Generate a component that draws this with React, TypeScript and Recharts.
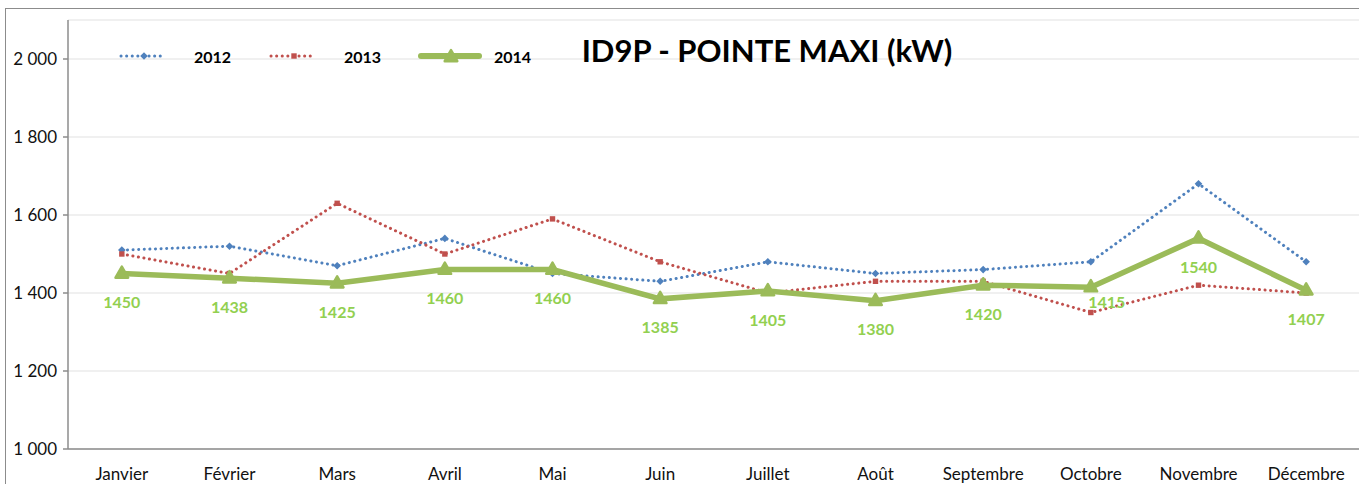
import React from "react";
import {
  CartesianGrid,
  LabelList,
  Line,
  LineChart,
  XAxis,
  YAxis,
} from "recharts";

const MONTHS = [
  "Janvier",
  "Février",
  "Mars",
  "Avril",
  "Mai",
  "Juin",
  "Juillet",
  "Août",
  "Septembre",
  "Octobre",
  "Novembre",
  "Décembre",
];
const Y2012 = [1510, 1520, 1470, 1540, 1450, 1430, 1480, 1450, 1460, 1480, 1680, 1480];
const Y2013 = [1500, 1450, 1630, 1500, 1590, 1480, 1400, 1430, 1430, 1350, 1420, 1400];
const Y2014 = [1450, 1438, 1425, 1460, 1460, 1385, 1405, 1380, 1420, 1415, 1540, 1407];
const Y_TICKS = [1000, 1200, 1400, 1600, 1800, 2000];

const BLUE = "#4F81BD";
const RED = "#C0504D";
const GREEN = "#9BBB59";
const LABEL_GREEN = "#92D050";
const FONT = "Lato, 'Open Sans', sans-serif";
const DOTS = "0.1 5.5";

const data = MONTHS.map((m, i) => ({
  idx: i + 1,
  month: m,
  y2012: Y2012[i],
  y2013: Y2013[i],
  y2014: Y2014[i],
}));

// boundaries between months, where Excel puts the category tick marks
const BOUNDS = MONTHS.map((_, i) => i + 0.5).concat([MONTHS.length + 0.5]);

const fmtThousands = (v: number) =>
  String(v).replace(/\B(?=(\d{3})+(?!\d))/g, "\u00a0");

function Diamond({ cx, cy }: any) {
  if (cx == null || cy == null) return null;
  const r = 3.8;
  return (
    <path
      d={`M${cx},${cy - r}L${cx + r},${cy}L${cx},${cy + r}L${cx - r},${cy}Z`}
      fill={BLUE}
    />
  );
}

function Square({ cx, cy }: any) {
  if (cx == null || cy == null) return null;
  return <rect x={cx - 2.7} y={cy - 2.7} width={5.4} height={5.4} fill={RED} />;
}

function Triangle({ cx, cy }: any) {
  if (cx == null || cy == null) return null;
  const r = 7;
  return (
    <path
      d={`M${cx},${cy - r}L${cx + r * 0.9},${cy + r * 0.6}L${cx - r * 0.9},${cy + r * 0.6}Z`}
      fill={GREEN}
      stroke={GREEN}
      strokeWidth={2.5}
      strokeLinejoin="round"
    />
  );
}

function GreenLabel(props: any) {
  const { x, y, value, index } = props;
  // Excel nudged the October label to the right of its point
  const shifted = index === 9;
  return (
    <text
      x={x + (shifted ? 16 : 0)}
      y={y + (shifted ? 14 : 28)}
      textAnchor="middle"
      dominantBaseline="central"
      fill={LABEL_GREEN}
      fontFamily={FONT}
      fontWeight={700}
      fontSize={16}
    >
      {value}
    </text>
  );
}

function ChartLegend() {
  const items = [
    { name: "2012", color: BLUE, dash: DOTS, width: 3, mark: "d" },
    { name: "2013", color: RED, dash: DOTS, width: 3, mark: "s" },
    { name: "2014", color: GREEN, dash: undefined, width: 6, mark: "t" },
  ];
  return (
    <div
      style={{
        position: "absolute",
        left: 118,
        top: 46,
        display: "flex",
        alignItems: "center",
      }}
    >
      {items.map((it, i) => (
        <div
          key={it.name}
          style={{ display: "flex", alignItems: "center", width: 150 }}
        >
          <svg width={i === 2 ? 64 : 50} height={20}>
            <line
              x1={3}
              x2={i === 2 ? 61 : 47}
              y1={10}
              y2={10}
              stroke={it.color}
              strokeWidth={it.width}
              strokeDasharray={it.dash}
              strokeLinecap="round"
            />
            {it.mark === "d" && <Diamond cx={26} cy={10} />}
            {it.mark === "s" && <Square cx={26} cy={10} />}
            {it.mark === "t" && <Triangle cx={33} cy={11} />}
          </svg>
          <span
            style={{
              fontFamily: FONT,
              fontWeight: 700,
              fontSize: 16,
              color: "#000",
              marginLeft: i === 2 ? 12 : 26,
            }}
          >
            {it.name}
          </span>
        </div>
      ))}
    </div>
  );
}

export default function App() {
  return (
    <div
      style={{
        position: "absolute",
        left: 0,
        top: 0,
        width: 1359,
        height: 484,
        overflow: "hidden",
        background: "#fff",
      }}
    >
      <div
        style={{
          position: "absolute",
          left: 5,
          top: 8,
          width: 1400,
          height: 500,
          borderLeft: "1px solid #8c8c8c",
          borderTop: "1px solid #8c8c8c",
        }}
      />
      <div style={{ position: "absolute", left: 0, top: 0 }}>
        <LineChart
          width={1362}
          height={484}
          data={data}
          margin={{ top: 20, right: 2, bottom: 0, left: 0 }}
        >
          <CartesianGrid vertical={false} stroke="#ebebeb" strokeWidth={1.5} />
          <XAxis
            dataKey="idx"
            type="number"
            domain={[0.5, 12.5]}
            ticks={data.map((d) => d.idx)}
            tickFormatter={(v: number) => MONTHS[v - 1]}
            interval={0}
            allowDataOverflow
            tickLine={false}
            axisLine={{ stroke: "#8c8c8c", strokeWidth: 1.5 }}
            tick={{ fill: "#111", fontSize: 17, fontFamily: FONT }}
            tickMargin={13}
            height={35}
          />
          <XAxis
            xAxisId="bounds"
            dataKey="idx"
            type="number"
            domain={[0.5, 12.5]}
            ticks={BOUNDS}
            allowDataOverflow
            axisLine={false}
            tick={false}
            tickSize={5}
            tickLine={{ stroke: "#8c8c8c", strokeWidth: 1.5 }}
            height={0}
          />
          <YAxis
            type="number"
            domain={[1000, 2100]}
            ticks={Y_TICKS}
            interval={0}
            allowDataOverflow
            width={68}
            tickSize={5}
            tickMargin={6}
            tickFormatter={fmtThousands}
            axisLine={{ stroke: "#8c8c8c", strokeWidth: 1.5 }}
            tickLine={{ stroke: "#8c8c8c", strokeWidth: 1.5 }}
            tick={{ fill: "#111", fontSize: 17, fontFamily: FONT }}
          />
          <Line
            dataKey="y2012"
            name="2012"
            stroke={BLUE}
            strokeWidth={3}
            strokeDasharray={DOTS}
            strokeLinecap="round"
            dot={<Diamond />}
            activeDot={false}
            isAnimationActive={false}
          />
          <Line
            dataKey="y2013"
            name="2013"
            stroke={RED}
            strokeWidth={3}
            strokeDasharray={DOTS}
            strokeLinecap="round"
            dot={<Square />}
            activeDot={false}
            isAnimationActive={false}
          />
          <Line
            dataKey="y2014"
            name="2014"
            stroke={GREEN}
            strokeWidth={5.5}
            dot={<Triangle />}
            activeDot={false}
            isAnimationActive={false}
          >
            <LabelList dataKey="y2014" content={<GreenLabel />} />
          </Line>
        </LineChart>
      </div>
      <ChartLegend />
      <div
        style={{
          position: "absolute",
          left: 575,
          top: 30,
          width: 384,
          textAlign: "center",
          fontFamily: FONT,
          fontWeight: 700,
          fontSize: 31,
          color: "#000",
          whiteSpace: "nowrap",
          lineHeight: "40px",
        }}
      >
        ID9P - POINTE MAXI (kW)
      </div>
    </div>
  );
}
